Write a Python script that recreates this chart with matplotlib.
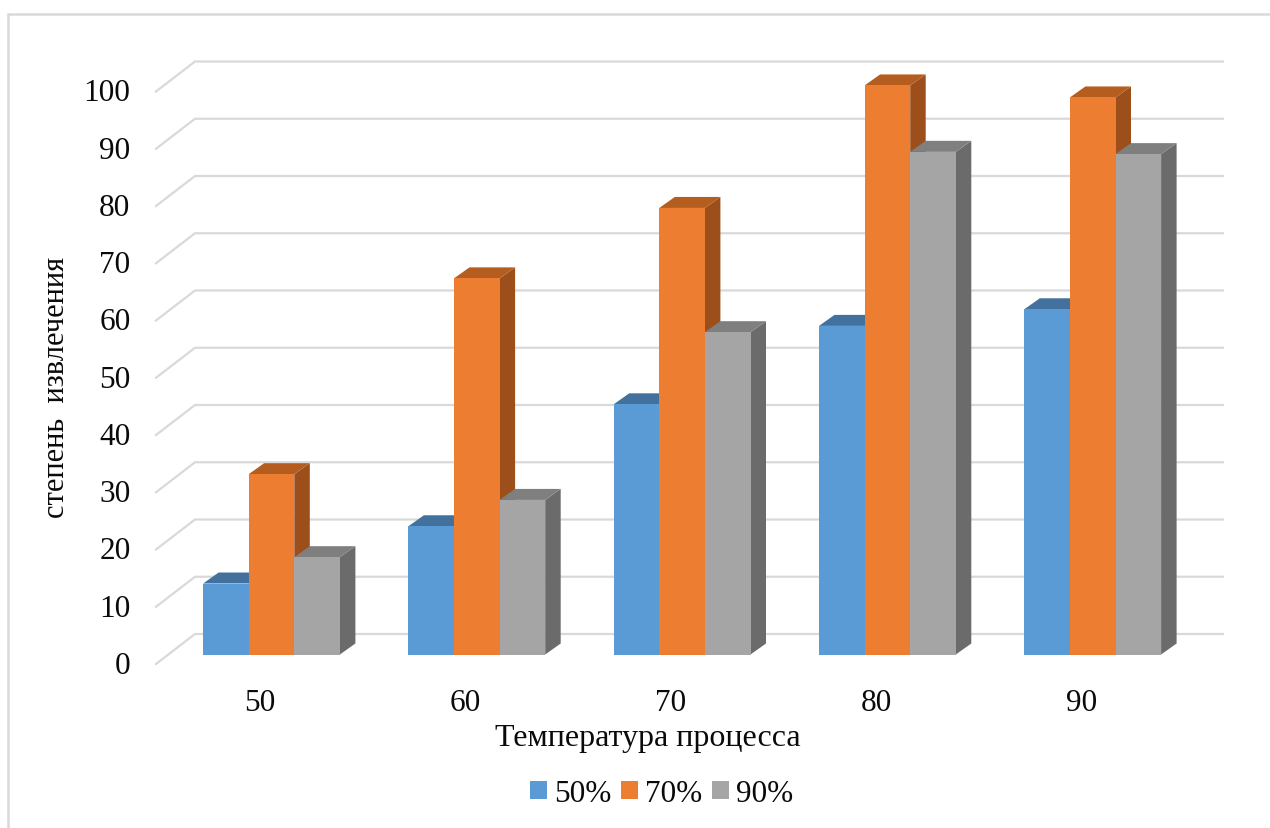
import matplotlib
matplotlib.use("Agg")
import matplotlib.pyplot as plt
from matplotlib.lines import Line2D
from matplotlib.patches import Polygon, Patch
from matplotlib.transforms import ScaledTranslation

categories = ["50", "60", "70", "80", "90"]
series_names = ["50%", "70%", "90%"]
values_50 = [12.4, 22.4, 43.7, 57.4, 60.3]
values_70 = [31.5, 65.7, 78.0, 99.4, 97.3]
values_90 = [17.0, 27.0, 56.3, 87.8, 87.4]
y_ticks = [0, 10, 20, 30, 40, 50, 60, 70, 80, 90, 100]
x_title = "Температура процесса"
y_title = "степень  извлечения"

FRONT = ["#5B9BD5", "#ED7D31", "#A5A5A5"]
TOP = ["#41719C", "#B55D1F", "#7F7F7F"]
SIDE = ["#3A6690", "#9C4F1B", "#6B6B6B"]
GRID = "#D9D9D9"
FONT = "Liberation Serif"
TEXT = "#0A0A0A"

W, H = 1270, 829
fig = plt.figure(figsize=(W / 100, H / 100), dpi=100, facecolor="white")

# outer chart frame: only the top and left edges fall inside the picture
fig.add_artist(Line2D([7.5 / W, 7.5 / W, 1.0], [0.0, 1 - 14.5 / H, 1 - 14.5 / H],
                      transform=fig.transFigure, color=GRID, lw=1.8, solid_joinstyle="miter"))

# front plane: category i at px 271.5 + 205.3 i, value 0 at px 655.5, 5.725 px per unit
ux = 205.3      # px per category
uy = 5.725      # px per value unit
x_left = 271.5 - ux / 2
x_right = x_left + 5 * ux
y_bottom, y_top = 655.5, 655.5 - 100 * uy
ax = fig.add_axes([x_left / W, 1 - y_bottom / H, (x_right - x_left) / W, (y_bottom - y_top) / H])
ax.set_xlim(-0.5, 4.5)
ax.set_ylim(0, 100)
ax.patch.set_alpha(0)
for s in ax.spines.values():
    s.set_visible(False)

depth_x = 15.5 / ux
depth_y = 11.0 / uy
bar_w = 45.6 / ux


def px_to_x(px):
    return -0.5 + (px - x_left) / ux


# wall gridlines with the diagonal stub on the left
for v in y_ticks:
    xs = [px_to_x(156), px_to_x(195), px_to_x(1223)]
    ys = [v - 9.5 / uy, v + 20.5 / uy, v + 20.5 / uy]
    ax.plot(xs, ys, color=GRID, lw=1.6, clip_on=False, zorder=1, solid_joinstyle="miter")

# bars: front face, top and side
series = [values_50, values_70, values_90]
z = 2
for i in range(len(categories)):
    for j, vals in enumerate(series):
        x0 = i + (j - 1.5) * bar_w
        x1 = x0 + bar_w
        v = vals[i]
        ax.add_patch(Polygon([(x1, 0), (x1 + depth_x, depth_y), (x1 + depth_x, v + depth_y), (x1, v)],
                             closed=True, fc=SIDE[j], ec="none", zorder=z, clip_on=False))
        ax.add_patch(Polygon([(x0, v), (x1, v), (x1 + depth_x, v + depth_y), (x0 + depth_x, v + depth_y)],
                             closed=True, fc=TOP[j], ec="none", zorder=z, clip_on=False))
        ax.bar(x0, v, width=bar_w, align="edge", color=FRONT[j], zorder=z + 0.5, clip_on=False)
        z += 1

# tick labels
ax.set_yticks(y_ticks)
ax.set_yticklabels([str(v) for v in y_ticks], family=FONT, fontsize=22.5, color=TEXT)
ax.set_xticks(range(len(categories)))
ax.set_xticklabels(categories, family=FONT, fontsize=22.5, color=TEXT)
ax.tick_params(length=0, axis="y", pad=(x_left - 130.5) * 0.72)
ax.tick_params(length=0, axis="x", pad=0)
ax.set_ylim(0, 100)
y_off = ScaledTranslation(0, -7.5 / 100, fig.dpi_scale_trans)
for lab in ax.get_yticklabels():
    lab.set_transform(lab.get_transform() + y_off)
x_off = ScaledTranslation(-11.5 / 100, -34 / 100, fig.dpi_scale_trans)
for lab in ax.get_xticklabels():
    lab.set_transform(lab.get_transform() + x_off)

fig.text(647.5 / W, 1 - 739 / H, x_title, family=FONT, fontsize=23, color=TEXT, ha="center", va="center")
fig.text(57 / W, 1 - 387 / H, y_title, family=FONT, fontsize=22, color=TEXT, ha="center", va="center", rotation=90)

handles = [Patch(fc=c, ec="none") for c in FRONT]
fig.legend(handles, series_names, loc="center", bbox_to_anchor=(661.5 / W, 1 - 794.5 / H), ncol=3, frameon=False,
           prop={"family": FONT, "size": 22.5}, handlelength=0.54, handleheight=0.54,
           handletextpad=0.22, columnspacing=0.32, labelcolor=TEXT, borderpad=0, borderaxespad=0)

fig.savefig("out.png", dpi=100, facecolor="white")
